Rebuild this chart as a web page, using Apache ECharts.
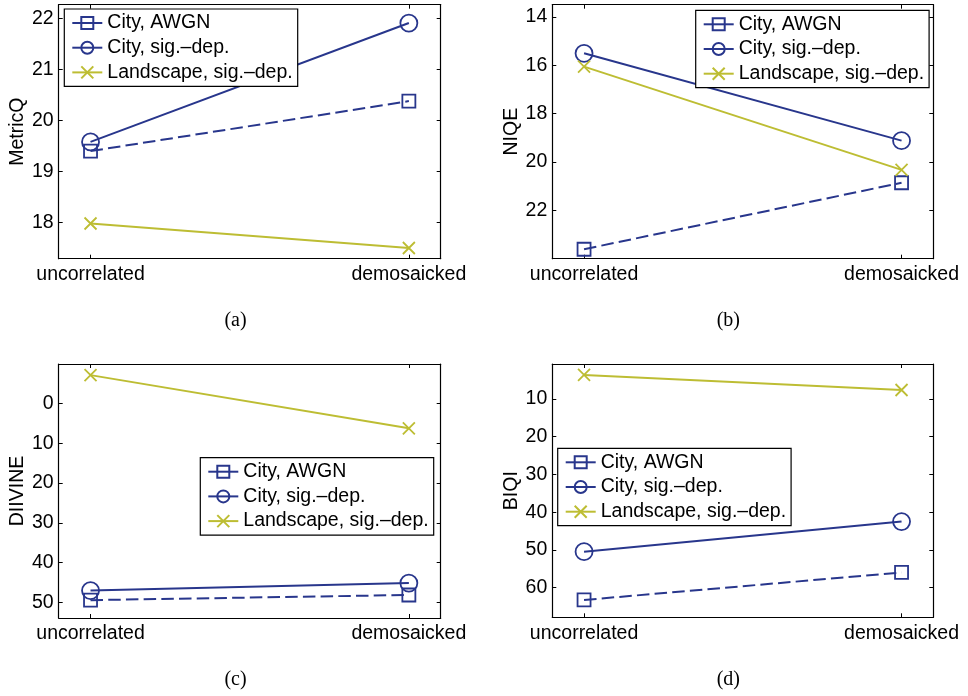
<!DOCTYPE html>
<html><head><meta charset="utf-8">
<script src="https://cdn.jsdelivr.net/npm/echarts@6/dist/echarts.min.js"></script>
<style>html,body{margin:0;padding:0;background:#fff}#c{width:968px;height:696px}</style>
</head><body><div id="c"></div>
<script>
// ---- data ----
const categories = ['uncorrelated', 'demosaicked'];
const xPos = [1, 2];
const seriesNames = ['City, AWGN', 'City, sig.–dep.', 'Landscape, sig.–dep.'];

const metricqAWGN = [19.40, 20.38];
const metricqCitySig = [19.58, 21.91];
const metricqLandSig = [17.98, 17.50];
const metricqTicks = [18, 19, 20, 21, 22];

const niqeAWGN = [23.61, 20.86];
const niqeCitySig = [15.51, 19.12];
const niqeLandSig = [16.06, 20.33];
const niqeTicks = [14, 16, 18, 20, 22];

const diivineAWGN = [49.5, 48.2];
const diivineCitySig = [47.1, 45.2];
const diivineLandSig = [-7.2, 6.2];
const diivineTicks = [0, 10, 20, 30, 40, 50];

const biqiAWGN = [63.3, 56.0];
const biqiCitySig = [50.5, 42.5];
const biqiLandSig = [3.6, 7.6];
const biqiTicks = [10, 20, 30, 40, 50, 60];

const captions = ['(a)', '(b)', '(c)', '(d)'];

// ---- layout / style ----
const NAVY = '#28368c';
const OLIVE = '#bdbd33';
const FONT = 'Liberation Sans';
const FS = 19.5;

const panels = [
  { name: 'MetricQ', values: [metricqAWGN, metricqCitySig, metricqLandSig], ticks: metricqTicks,
    min: 17.29, max: 22.27, inverse: false,
    grid: { left: 58.7, top: 4.7, width: 382, height: 254 },
    legend: { left: 64.3, top: 9 }, caption: { x: 235.5, y: 321 } },
  { name: 'NIQE', values: [niqeAWGN, niqeCitySig, niqeLandSig], ticks: niqeTicks,
    min: 13.5, max: 24, inverse: true,
    grid: { left: 552.3, top: 4.7, width: 381, height: 254 },
    legend: { left: 695.7, top: 10.3 }, caption: { x: 728.3, y: 321 } },
  { name: 'DIIVINE', values: [diivineAWGN, diivineCitySig, diivineLandSig], ticks: diivineTicks,
    min: -10, max: 54, inverse: true,
    grid: { left: 58.7, top: 364, width: 382, height: 254 },
    legend: { left: 200.3, top: 457.7 }, caption: { x: 235.5, y: 680 } },
  { name: 'BIQI', values: [biqiAWGN, biqiCitySig, biqiLandSig], ticks: biqiTicks,
    min: 0.7, max: 67.9, inverse: true,
    grid: { left: 552.3, top: 364, width: 381, height: 253.3 },
    legend: { left: 557.7, top: 448.3 }, caption: { x: 728.3, y: 680 } }
];

const seriesStyles = [
  { color: NAVY, type: [12.5, 5.2], symbol: 'rect', size: 13 },
  { color: NAVY, type: 'solid', symbol: 'circle', size: 17 },
  { color: OLIVE, type: 'solid', symbol: 'path://M0,0L10,10M10,0L0,10', size: 12 }
];

const grids = [], xAxes = [], yAxes = [], series = [], legends = [], graphics = [];
const axisLine = { show: true, onZero: false, lineStyle: { color: '#000', width: 1.2 } };

panels.forEach((p, i) => {
  grids.push(Object.assign({ containLabel: false }, p.grid));
  const xTick = { show: true, inside: true, length: 4, customValues: xPos, lineStyle: { color: '#000' } };
  xAxes.push({
    type: 'value', gridIndex: i, position: 'bottom', min: 0.9, max: 2.1,
    axisLine, axisTick: xTick, splitLine: { show: false },
    axisLabel: { customValues: xPos, margin: 6, color: '#000', fontFamily: FONT, fontSize: FS,
      formatter: v => categories[xPos.indexOf(Math.round(v))] || '' }
  });
  xAxes.push({
    type: 'value', gridIndex: i, position: 'top', min: 0.9, max: 2.1,
    axisLine, axisTick: xTick, splitLine: { show: false }, axisLabel: { show: false }
  });
  const yTick = { show: true, inside: true, length: 4, customValues: p.ticks, lineStyle: { color: '#000' } };
  yAxes.push({
    type: 'value', gridIndex: i, position: 'left', min: p.min, max: p.max, inverse: p.inverse,
    name: p.name, nameLocation: 'middle', nameGap: 30,
    nameTextStyle: { color: '#000', fontFamily: FONT, fontSize: FS },
    axisLine, axisTick: yTick, splitLine: { show: false },
    axisLabel: { customValues: p.ticks, margin: 5, color: '#000', fontFamily: FONT, fontSize: FS }
  });
  yAxes.push({
    type: 'value', gridIndex: i, position: 'right', min: p.min, max: p.max, inverse: p.inverse,
    axisLine, axisTick: yTick, splitLine: { show: false }, axisLabel: { show: false }
  });
  p.values.forEach((vals, k) => {
    const st = seriesStyles[k];
    series.push({
      name: seriesNames[k], type: 'line', xAxisIndex: 2 * i, yAxisIndex: 2 * i,
      data: xPos.map((x, j) => [x, vals[j]]),
      symbol: st.symbol, symbolSize: st.size, showSymbol: true, animation: false,
      lineStyle: { color: st.color, width: 2, type: st.type },
      itemStyle: { color: 'rgba(0,0,0,0)', borderColor: st.color, borderWidth: 1.8 },
      emphasis: { disabled: true }
    });
  });
  legends.push({
    orient: 'vertical', left: p.legend.left, top: p.legend.top,
    data: seriesNames, selectedMode: false,
    backgroundColor: '#fff', borderColor: '#000', borderWidth: 1.2, borderRadius: 0,
    padding: [4, 5, 4, 7], itemGap: 4.7, itemWidth: 30, itemHeight: 15,
    lineStyle: { type: 'solid' },
    textStyle: { color: '#000', fontFamily: FONT, fontSize: FS, lineHeight: 20 }
  });
  graphics.push({
    type: 'text', x: p.caption.x, y: p.caption.y,
    style: { text: captions[i], textAlign: 'center', textVerticalAlign: 'middle',
      font: '20px "Liberation Serif"', fill: '#000' }
  });
});

const chart = echarts.init(document.getElementById('c'), null, { renderer: 'canvas' });
chart.setOption({
  animation: false,
  backgroundColor: '#fff',
  grid: grids, xAxis: xAxes, yAxis: yAxes, series, legend: legends, graphic: graphics
});
</script></body></html>
